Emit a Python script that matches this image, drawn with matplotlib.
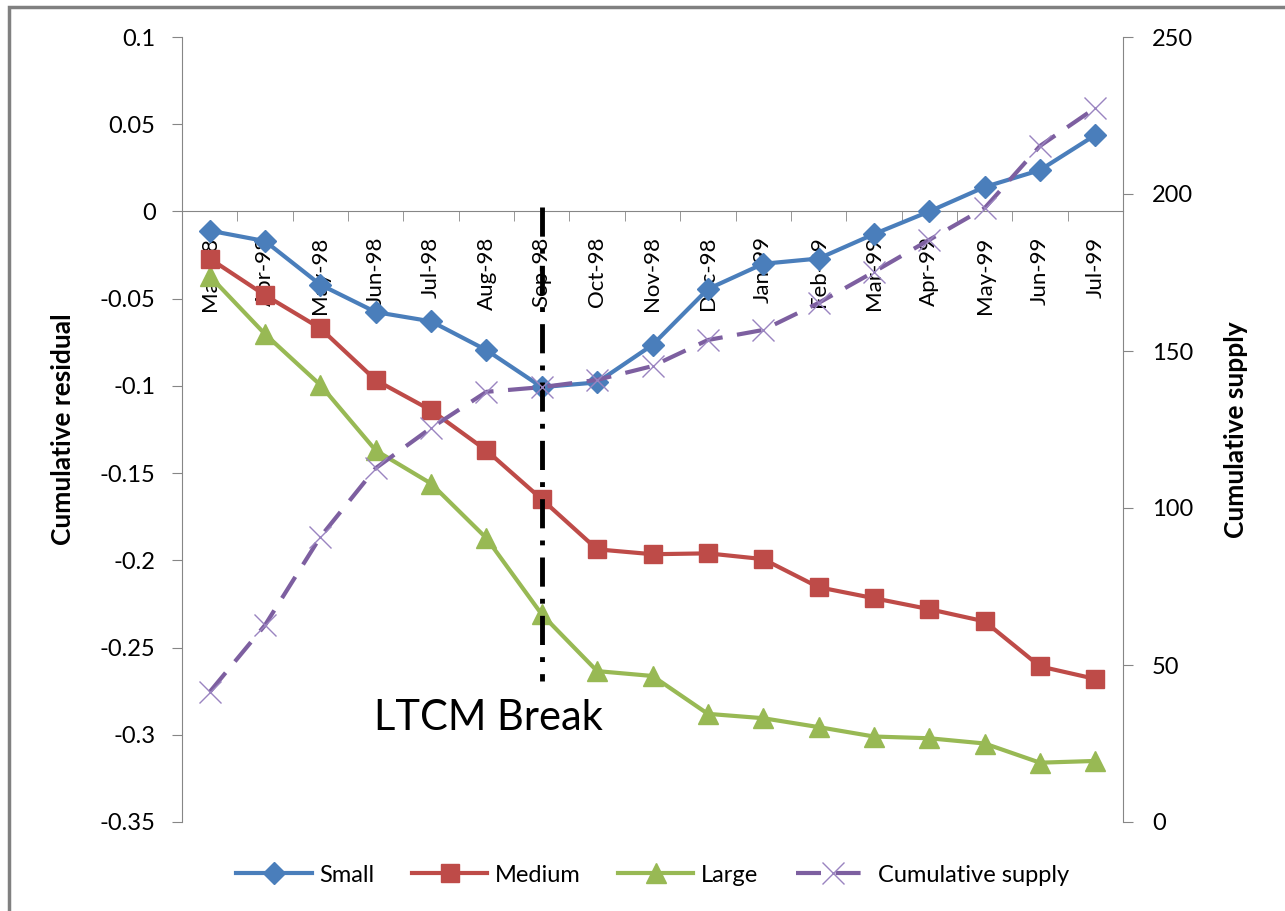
import matplotlib
matplotlib.use("Agg")
import matplotlib.pyplot as plt
from matplotlib.patches import Rectangle
from matplotlib.ticker import FixedLocator

months = ["Mar-98", "Apr-98", "May-98", "Jun-98", "Jul-98", "Aug-98", "Sep-98", "Oct-98",
          "Nov-98", "Dec-98", "Jan-99", "Feb-99", "Mar-99", "Apr-99", "May-99", "Jun-99", "Jul-99"]
small = [-0.011, -0.017, -0.042, -0.0577, -0.063, -0.0795, -0.1007, -0.098, -0.0765,
         -0.0445, -0.030, -0.027, -0.013, 0.0, 0.014, 0.0237, 0.0438]
medium = [-0.027, -0.048, -0.067, -0.0967, -0.114, -0.137, -0.165, -0.1937, -0.1965,
          -0.196, -0.1993, -0.2154, -0.2217, -0.228, -0.235, -0.2608, -0.268]
large = [-0.037, -0.0703, -0.0995, -0.137, -0.156, -0.1873, -0.231, -0.2635, -0.2663,
         -0.288, -0.2905, -0.2956, -0.301, -0.302, -0.305, -0.316, -0.315]
cum_supply = [41.4, 62.7, 90.8, 112.7, 125.5, 137.0, 138.5, 140.8, 145.2, 153.5, 156.7,
              165.3, 175.2, 185.4, 195.5, 215.3, 227.4]
left_ticks = [0.1, 0.05, 0, -0.05, -0.1, -0.15, -0.2, -0.25, -0.3, -0.35]
left_labels = ["0.1", "0.05", "0", "-0.05", "-0.1", "-0.15", "-0.2", "-0.25", "-0.3", "-0.35"]
right_ticks = [0, 50, 100, 150, 200, 250]
break_month = "Sep-98"

plt.rcParams['font.family'] = ['Lato', 'DejaVu Sans']

W, H = 1285, 911
fig = plt.figure(figsize=(W / 100, H / 100), dpi=100)
ax = fig.add_axes([182 / W, 1 - 822 / H, (1123 - 182) / W, (822 - 37) / H])
ax2 = ax.twinx()

BLUE = "#4A7EBB"
RED = "#BE4B48"
GREEN = "#98B954"
PURPLE = "#7D5FA0"
GRAY = "#868686"

x = list(range(len(months)))
ax.plot(x, small, color=BLUE, lw=3, marker="D", ms=11, label="Small", zorder=5)
ax.plot(x, medium, color=RED, lw=3, marker="s", ms=13, label="Medium", zorder=4)
ax.plot(x, large, color=GREEN, lw=3, marker="^", ms=14, label="Large", zorder=3)
ax2.plot(x, cum_supply, color=PURPLE, lw=3, dashes=(6, 3.5), marker="x", ms=16,
         mew=1, mec="#9A84C0", label="Cumulative supply")

bx = months.index(break_month)
ax.plot([bx, bx], [0.0025, -0.269], color="black", lw=3.5,
        dashes=(6, 2.5, 1, 2.5), zorder=6)
ax.text(5.03, -0.2905, "LTCM Break", fontsize=30, ha="center", va="center", zorder=7)

ax.set_xlim(-0.5, len(months) - 0.5)
ax.set_ylim(-0.35, 0.1)
ax2.set_ylim(0, 250)

# spines
for s in ["top", "right"]:
    ax.spines[s].set_visible(False)
for s in ["top", "bottom", "left"]:
    ax2.spines[s].set_visible(False)
ax.spines["left"].set_color(GRAY)
ax2.spines["right"].set_color(GRAY)
ax.spines["bottom"].set_position(("data", 0))
ax.spines["bottom"].set_color(GRAY)

# x ticks
ax.set_xticks(x)
ax.set_xticklabels(months, rotation=90, fontsize=16)
ax.tick_params(axis="x", which="major", length=0, pad=18)
ax.xaxis.set_minor_locator(FixedLocator([i + 0.5 for i in range(len(months) - 1)]))
ax.tick_params(axis="x", which="minor", direction="out", length=7, color=GRAY)

# y ticks
ax.set_yticks(left_ticks)
ax.set_yticklabels(left_labels, fontsize=17)
ax.tick_params(axis="y", direction="out", length=7, color=GRAY, pad=12)
ax2.set_yticks(right_ticks)
ax2.set_yticklabels([str(t) for t in right_ticks], fontsize=17)
ax2.tick_params(axis="y", direction="out", length=7, color=GRAY, pad=14)

ax.set_ylabel("Cumulative residual", fontsize=19, fontweight="bold", labelpad=18)
ax2.set_ylabel("Cumulative supply", fontsize=19, fontweight="bold", labelpad=22)

h1, l1 = ax.get_legend_handles_labels()
h2, l2 = ax2.get_legend_handles_labels()
fig.legend(h1 + h2, l1 + l2, loc="center", bbox_to_anchor=(0.508, 1 - 875 / H), ncol=4,
           frameon=False, fontsize=17, handlelength=3.2, columnspacing=1.6, handletextpad=0.3)

fig.patches.append(Rectangle((9 / W, -0.1), 1.2, 1.1 - 7 / H, transform=fig.transFigure,
                             fill=False, edgecolor="#808080", lw=2.5, zorder=10))

fig.savefig("out.png", dpi=100)
